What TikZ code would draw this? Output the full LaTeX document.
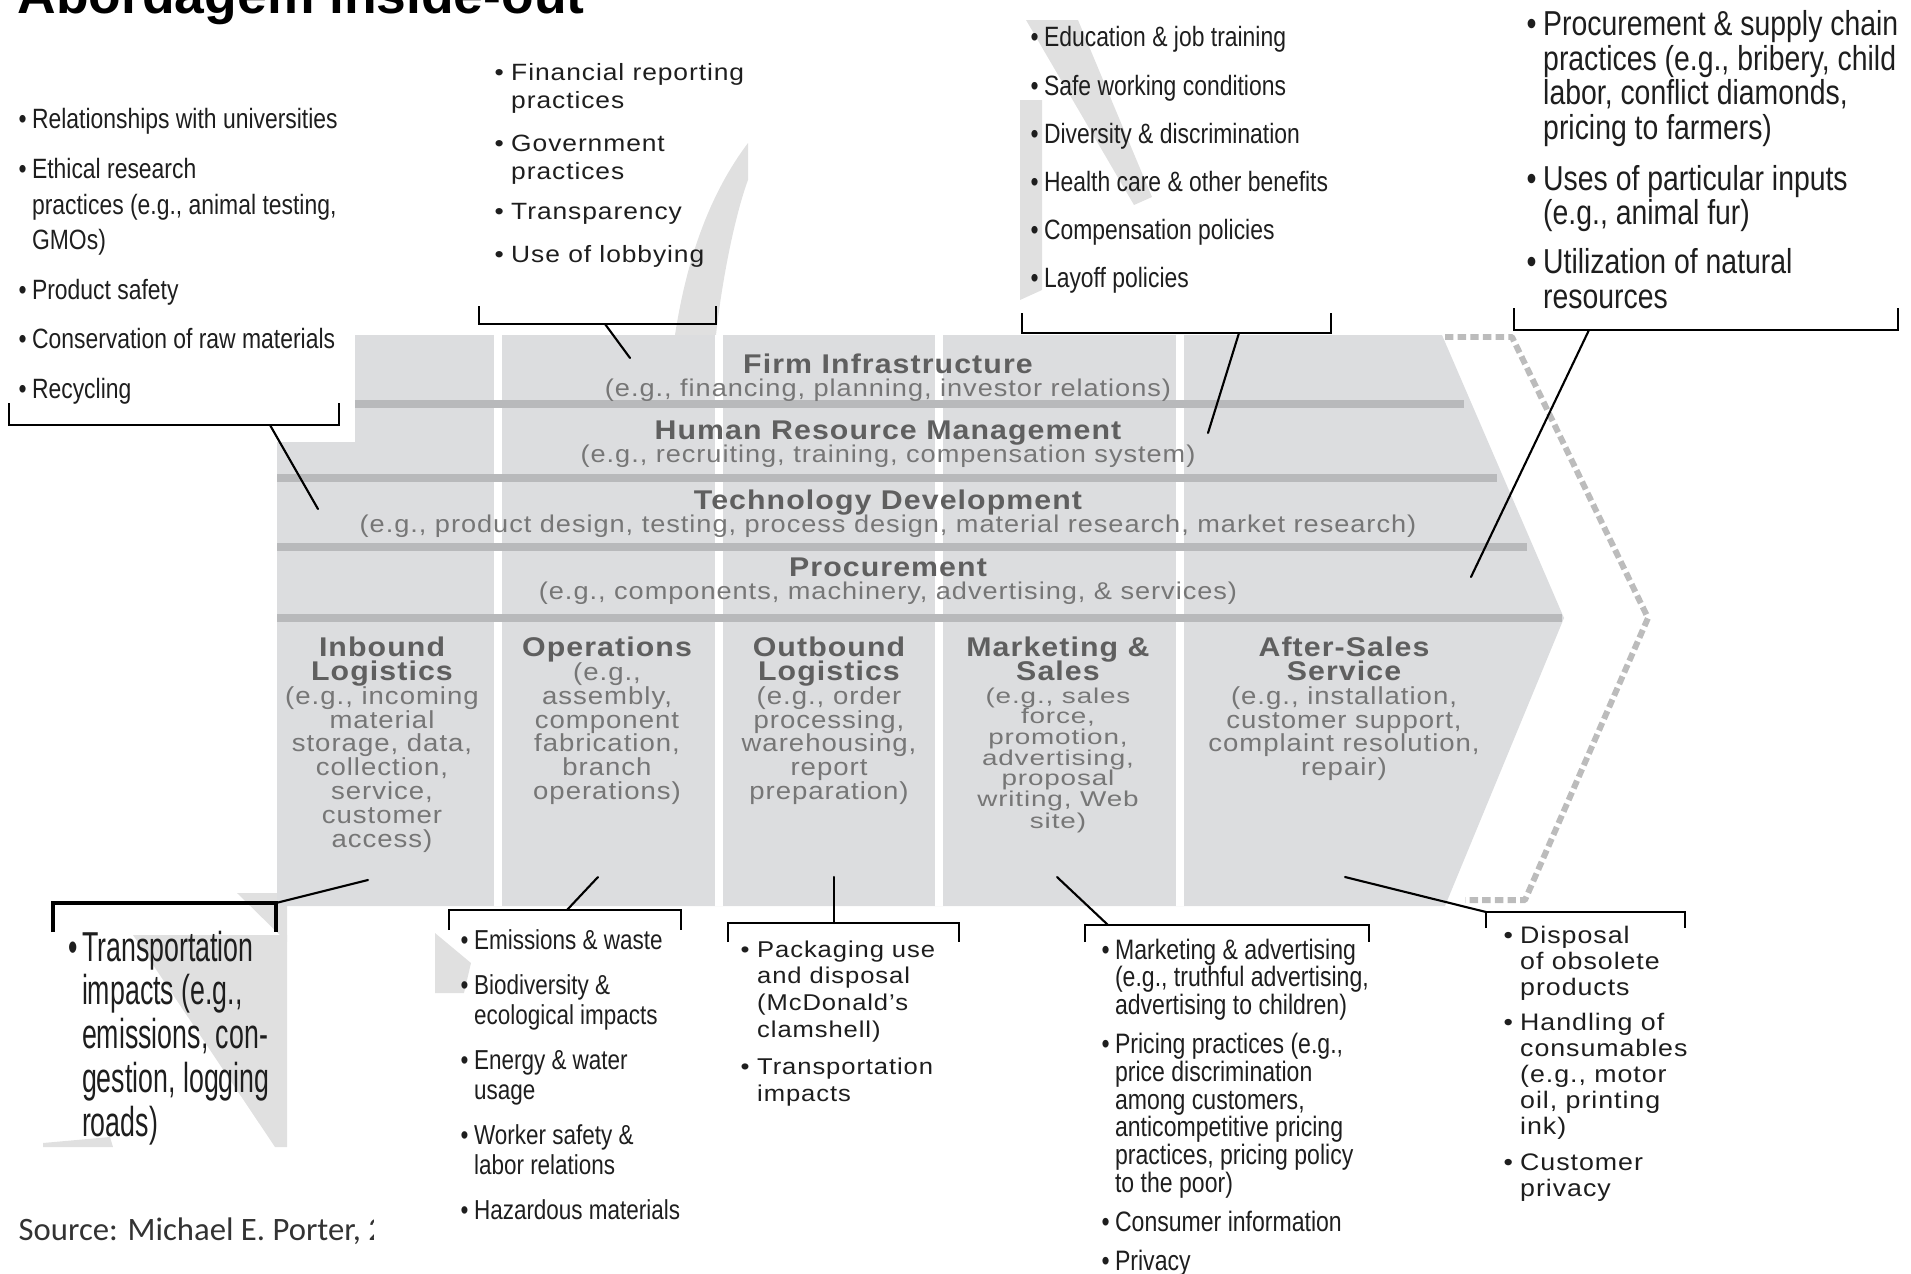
\documentclass[tikz,border=0pt]{standalone}
\usepackage{fontspec}
\setmainfont{Liberation Sans}
\newfontfamily\cnd[FakeStretch=0.82]{Liberation Sans}
\newfontfamily\tall[FakeStretch=0.64]{Liberation Sans}
\newfontfamily\wide[FakeStretch=1.12,LetterSpace=4]{Liberation Sans}
\newfontfamily\widex[FakeStretch=1.3,LetterSpace=4]{Liberation Sans}
\newfontfamily\src{Carlito}
\definecolor{chain}{RGB}{220,221,223}
\definecolor{barc}{RGB}{184,185,187}
\definecolor{ttlc}{RGB}{95,95,95}
\definecolor{descc}{RGB}{118,118,118}
\definecolor{txt}{RGB}{30,30,30}
\definecolor{wmc}{RGB}{224,224,224}
\definecolor{dashc}{RGB}{188,188,188}
\newcommand\fs[2]{\fontsize{#1}{#2}\selectfont\lineskiplimit=-20pt\relax}
\newcommand\bul{\makebox[3.8pt][l]{\textbullet}}
\newcommand\ind{\hspace*{3.8pt}}
\newcommand\bulw{\makebox[4.7pt][l]{\textbullet}}
\newcommand\indw{\hspace*{4.7pt}}
\newcommand\ttl[1]{{\wide\fontsize{7.7}{6.8}\selectfont\bfseries\color{ttlc}#1}}
\begin{document}
\begin{tikzpicture}[x=0.1mm, y=-0.1mm, line join=round, line cap=round,
  lst/.style={anchor=north west, inner sep=0pt, align=left, text=txt},
  col/.style={anchor=north, inner sep=0pt, align=center, text=descc, font=\wide\fs{7}{6.8}},
  sup/.style={anchor=north, inner sep=0pt, align=center, text=descc, font=\wide\fs{6.9}{6.5}},
  brk/.style={line width=0.8pt, line cap=butt, line join=miter},
  con/.style={line width=0.6pt},
  sep/.style={white, line width=2pt, line cap=butt},
  bar/.style={barc, line width=2pt, line cap=butt},
  wm/.style={fill=wmc}]
\useasboundingbox (0,0) rectangle (1911,1274);
% watermark leftovers
\fill[wm] (1026,20) -- (1078,20) -- (1152,197) -- (1134,205) -- cycle;
\fill[wm] (1020,100) -- (1042,100) -- (1042,290) -- (1020,300) -- cycle;
\fill[wm] (748,143) .. controls (705,200) and (685,270) .. (675,335) -- (716,335) .. controls (722,280) and (735,215) .. (748,180) -- cycle;
\fill[wm] (237,893) -- (287,893) -- (287,942) -- cycle;
\fill[wm] (133,935) -- (287,935) -- (287,1147) -- (275,1147) -- cycle;
\fill[wm] (43,1143) -- (110,1137) -- (113,1147) -- (43,1147) -- cycle;
\fill[wm] (435,933) -- (471,963) -- (464,993) -- (435,993) -- cycle;
% value chain
\fill[chain] (355,335) -- (1442,335) -- (1564,618) -- (1445,906) -- (277,906) -- (277,442) -- (355,442) -- cycle;
\foreach \x in {498,719,939,1180} \draw[sep] (\x,335) -- (\x,906);
\foreach \y/\xa/\xb in {404/355/1464, 478/277/1497, 547/277/1527, 618/277/1562} \draw[bar] (\xa,\y) -- (\xb,\y);
\draw[dashc, line width=1.7pt, dash pattern=on 2.4pt off 1.2pt, line cap=butt] (1445,337) -- (1512,337) -- (1648,618) -- (1525,900) -- (1465,900);
\foreach \n/\y/\t/\d in {firm/353/{Firm Infrastructure}/{(e.g., financing, planning, investor relations)},
    hrm/420/{Human Resource Management}/{(e.g., recruiting, training, compensation system)},
    tech/489/{Technology Development}/{(e.g., product design, testing, process design, material research, market research)},
    proc/557/Procurement/{(e.g., components, machinery, advertising, \& services)}}
  \node[sup] (\n) at (888,\y) {\ttl{\t}\\\d};
\node[col] (inb) at (382,636) {\ttl{Inbound}\\\ttl{Logistics}\\(e.g., incoming\\material\\storage, data,\\collection,\\service,\\customer\\access)};
\node[col] (ops) at (607,636) {\ttl{Operations}\\(e.g.,\\assembly,\\component\\fabrication,\\branch\\operations)};
\node[col] (outb) at (829,636) {\ttl{Outbound}\\\ttl{Logistics}\\(e.g., order\\processing,\\warehousing,\\report\\preparation)};
\node[col, font=\widex\fs{6.1}{5.85}] (mks) at (1058,636) {\ttl{Marketing \&}\\[0.95pt]\ttl{Sales}\\[0.75pt](e.g., sales\\force,\\promotion,\\advertising,\\proposal\\writing, Web\\[0.6pt]site)};
\node[col] (aft) at (1344,636) {\ttl{After-Sales}\\\ttl{Service}\\(e.g., installation,\\customer support,\\complaint resolution,\\repair)};
% callouts on top
\node[anchor=base west, inner sep=0pt, font=\bfseries\fontsize{15.2}{18}\selectfont] (ttl) at (17,13) {Abordagem inside-out};
\node[lst, font=\cnd\fs{7.95}{10}] (rnd) at (18,108) {\bul Relationships with universities\\[4.2pt]\bul Ethical research\\\ind practices (e.g., animal testing,\\\ind GMOs)\\[4.2pt]\bul Product safety\\[4.2pt]\bul Conservation of raw materials\\[4.2pt]\bul Recycling};
\node[lst, font=\wide\fs{6.7}{8}] (fin) at (494,63) {\bulw Financial reporting\\\indw practices\\[4pt]\bulw Government\\\indw practices\\[3.4pt]\bulw Transparency\\[4.2pt]\bulw Use of lobbying};
\node[lst, font=\cnd\fs{7.95}{13.7}] (edu) at (1030,26) {\bul Education \& job training\\\bul Safe working conditions\\\bul Diversity \& discrimination\\\bul Health care \& other benefits\\\bul Compensation policies\\\bul Layoff policies};
\node[lst, font=\cnd\fs{9.85}{9.8}] (prc) at (1526,10) {\bulw Procurement \& supply chain\\\indw practices (e.g., bribery, child\\\indw labor, conflict diamonds,\\\indw pricing to farmers)\\[4.7pt]\bulw Uses of particular inputs\\\indw (e.g., animal fur)\\[4.2pt]\bulw Utilization of natural\\\indw resources};
% callouts below
\node[lst, font=\tall\fs{11.9}{12.5}] (trn) at (68,930) {\bul Transportation\\\ind impacts (e.g.,\\\ind emissions, con-\\\ind gestion, logging\\\ind roads)};
\node[lst, font=\cnd\fs{7.8}{8.5}] (emi) at (460,929) {\bul Emissions \& waste\\[4.3pt]\bul Biodiversity \&\\\ind ecological impacts\\[4.3pt]\bul Energy \& water\\\ind usage\\[4.3pt]\bul Worker safety \&\\\ind labor relations\\[4.3pt]\bul Hazardous materials};
\node[lst, font=\wide\fs{6.5}{7.6}] (pkg) at (740,940) {\bulw Packaging use\\\indw and disposal\\\indw (McDonald’s\\\indw clamshell)\\[2.9pt]\bulw Transportation\\\indw impacts};
\node[lst, font=\cnd\fs{8}{7.9}] (mkt) at (1101,938) {\bul Marketing \& advertising\\\ind (e.g., truthful advertising,\\\ind advertising to children)\\[3.2pt]\bul Pricing practices (e.g.,\\\ind price discrimination\\\ind among customers,\\\ind anticompetitive pricing\\\ind practices, pricing policy\\\ind to the poor)\\[3.2pt]\bul Consumer information\\[3.2pt]\bul Privacy};
\node[lst, font=\wide\fs{6.8}{7.4}] (dsp) at (1503,925) {\bulw Disposal\\\indw of obsolete\\\indw products\\[2.8pt]\bulw Handling of\\\indw consumables\\\indw (e.g., motor\\\indw oil, printing\\\indw ink)\\[2.8pt]\bulw Customer\\\indw privacy};
\begin{scope}
  \clip (0,1180) rectangle (373,1274);
  \node[anchor=base west, inner sep=0pt, font=\src\fontsize{9.3}{11}\selectfont, text=black!80] (srcn) at (18,1240) {Source: Michael E. Porter, 2006};
\end{scope}
% brackets
\foreach \xa/\xb/\y/\t in {9/339/425/403, 479/716/324/306, 1022/1331/333/313, 1514/1898/330/308, 449/681/910/930, 728/959/923/942, 1085/1369/925/942, 1486/1685/912/928}
  \draw[brk] (\xa,\t) |- (\xb,\y) -- (\xb,\t);
\draw[brk, line width=1.3pt] (53,932) |- (276,903) -- (276,932);
% connectors
\coordinate (rndbr) at (270,425); \coordinate (rndpin) at (318,509);
\coordinate (finbr) at (605,324); \coordinate (finpin) at (630,358);
\coordinate (edubr) at (1239,333); \coordinate (edupin) at (1208,433);
\coordinate (prcbr) at (1589,330); \coordinate (prcpin) at (1471,577);
\coordinate (inbpin) at (368,880); \coordinate (trnbr) at (276,903);
\coordinate (opspin) at (598,877); \coordinate (emibr) at (567,910);
\coordinate (outpin) at (834,877); \coordinate (pkgbr) at (834,923);
\coordinate (mkspin) at (1057,877); \coordinate (mktbr) at (1108,925);
\coordinate (aftpin) at (1345,877); \coordinate (dspbr) at (1486,912);
\foreach \a/\b in {rndbr/rndpin, finbr/finpin, edubr/edupin, prcbr/prcpin, inbpin/trnbr, opspin/emibr, outpin/pkgbr, mkspin/mktbr, aftpin/dspbr}
  \draw[con] (\a) -- (\b);
\end{tikzpicture}
\end{document}
